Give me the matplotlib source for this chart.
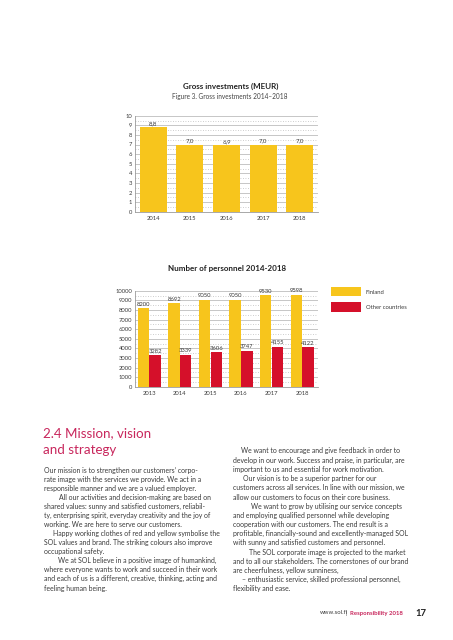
import numpy as np
import matplotlib.pyplot as plt

plt.rcParams['font.family'] = ['Lato', 'DejaVu Sans']

# ---- data ----
inv_years = ['2014', '2015', '2016', '2017', '2018']
inv_values = [8.8, 7.0, 6.9, 7.0, 7.0]
inv_labels = ['8,8', '7,0', '6,9', '7,0', '7,0']

pers_years = ['2013', '2014', '2015', '2016', '2017', '2018']
pers_finland = [8200, 8692, 9050, 9050, 9530, 9598]
pers_other = [3282, 3339, 3606, 3747, 4155, 4122]
pers_series = ['Finland', 'Other countries']

left_lines = [
    "Our mission is to strengthen our customers\u2019 corpo-",
    "rate image with the services we provide. We act in a",
    "responsible manner and we are a valued employer.",
    "All our activities and decision-making are based on",
    "shared values: sunny and satisfied customers, reliabil-",
    "ty, enterprising spirit, everyday creativity and the joy of",
    "working. We are here to serve our customers.",
    "Happy working clothes of red and yellow symbolise the",
    "SOL values and brand. The striking colours also improve",
    "occupational safety.",
    "We at SOL believe in a positive image of humankind,",
    "where everyone wants to work and succeed in their work",
    "and each of us is a different, creative, thinking, acting and",
    "feeling human being.",
]
left_indent = [0, 0, 0, 15, 0, 0, 0, 9, 0, 0, 14, 0, 0, 0]

right_lines = [
    "We want to encourage and give feedback in order to",
    "develop in our work. Success and praise, in particular, are",
    "important to us and essential for work motivation.",
    "Our vision is to be a superior partner for our",
    "customers across all services. In line with our mission, we",
    "allow our customers to focus on their core business.",
    "We want to grow by utilising our service concepts",
    "and employing qualified personnel while developing",
    "cooperation with our customers. The end result is a",
    "profitable, financially-sound and excellently-managed SOL",
    "with sunny and satisfied customers and personnel.",
    "The SOL corporate image is projected to the market",
    "and to all our stakeholders. The cornerstones of our brand",
    "are cheerfulness, yellow sunniness,",
    "\u2013 enthusiastic service, skilled professional personnel,",
    "flexibility and ease.",
]
right_indent = [8, 0, 0, 10, 0, 0, 18, 0, 0, 0, 0, 16, 0, 0, 9, 0]

YELLOW = '#F7C51C'
RED = '#D5102A'
PINK = '#C8265C'
GRID = '#BDBDBD'
TXT = '#3a3a3a'

W, H = 453, 640
fig = plt.figure(figsize=(W / 100, H / 100), dpi=100)


def px(x, y):
    return x / W, 1 - y / H


def style_axes(ax, ymax, step):
    ax.set_ylim(0, ymax)
    ax.set_yticks(np.arange(0, ymax + step / 2, step))
    ax.set_yticks(np.arange(step / 2, ymax, step), minor=True)
    ax.grid(which='major', axis='y', color=GRID, lw=0.6)
    ax.grid(which='minor', axis='y', color=GRID, lw=0.6, ls=(0, (1, 2)))
    ax.set_axisbelow(True)
    for s in ['top', 'right']:
        ax.spines[s].set_visible(False)
    for s in ['left', 'bottom']:
        ax.spines[s].set_color('#9a9a9a')
        ax.spines[s].set_linewidth(0.6)
    ax.tick_params(which='both', length=0, labelsize=4.2, colors=TXT, pad=2)
    ax.tick_params(axis='x', pad=3)


# ---- chart 1: gross investments ----
ax1 = fig.add_axes([135 / W, 1 - 211.7 / H, 183 / W, 96 / H])
x1 = np.arange(len(inv_years))
ax1.bar(x1, inv_values, width=0.74, color=YELLOW)
for xi, v, lab in zip(x1, inv_values, inv_labels):
    ax1.text(xi, v + 0.15, lab, ha='center', va='bottom', fontsize=4.4, color=TXT)
ax1.set_xlim(-0.5, 4.5)
ax1.set_xticks(x1, inv_years)
style_axes(ax1, 10, 1)

fig.text(*px(231, 86), 'Gross investments (MEUR)', ha='center', va='center',
         fontsize=5.8, fontweight='bold', color='#222222')
fig.text(*px(230, 96), 'Figure 3. Gross investments 2014\u20132018', ha='center',
         va='center', fontsize=4.7, color='#444444')

# ---- chart 2: number of personnel ----
ax2 = fig.add_axes([135 / W, 1 - 386.7 / H, 183 / W, 96 / H])
x2 = np.arange(len(pers_years))
bw = 0.375
b1 = ax2.bar(x2 - 0.19, pers_finland, width=bw, color=YELLOW, label=pers_series[0])
b2 = ax2.bar(x2 + 0.19, pers_other, width=bw, color=RED, label=pers_series[1])
for xi, v in zip(x2, pers_finland):
    ax2.text(xi - 0.19, v + 150, str(v), ha='center', va='bottom', fontsize=4.2, color=TXT)
for xi, v in zip(x2, pers_other):
    ax2.text(xi + 0.19, v + 150, str(v), ha='center', va='bottom', fontsize=4.2, color=TXT)
ax2.set_xlim(-0.47, 5.52)
ax2.set_xticks(x2, pers_years)
style_axes(ax2, 10000, 1000)

leg = ax2.legend(handles=[b1, b2], loc='upper left',
                 bbox_to_anchor=(331 / W, 1 - 287 / H), bbox_transform=fig.transFigure,
                 frameon=False, fontsize=4.2, handlelength=5.2, handleheight=2.1,
                 handletextpad=0.8, labelspacing=1.0, borderaxespad=0, borderpad=0)
for t in leg.get_texts():
    t.set_color(TXT)

fig.text(*px(227, 268), 'Number of personnel 2014-2018', ha='center', va='center',
         fontsize=5.8, fontweight='bold', color='#222222')

# ---- text section ----
fig.text(*px(43, 437), '2.4 Mission, vision', ha='left', va='baseline',
         fontsize=9.6, color=PINK)
fig.text(*px(43, 454), 'and strategy', ha='left', va='baseline',
         fontsize=9.6, color=PINK)

for i, (line, ind) in enumerate(zip(left_lines, left_indent)):
    fig.text(*px(44 + ind, 470 + i * 9.08), line, ha='left', va='center',
             fontsize=4.95, color=TXT)
for i, (line, ind) in enumerate(zip(right_lines, right_indent)):
    fig.text(*px(233 + ind, 451 + i * 9.2), line, ha='left', va='center',
             fontsize=4.95, color=TXT)

# footer
fig.text(*px(320, 613), 'www.sol.fi', ha='left', va='center', fontsize=4.3, color=TXT)
fig.text(*px(345, 613), '|', ha='left', va='center', fontsize=4.3, color=TXT)
fig.text(*px(350, 613), 'Responsibility 2018', ha='left', va='center', fontsize=4.3,
         fontweight='bold', color=PINK)
fig.text(*px(415, 613), '17', ha='left', va='center', fontsize=6.8,
         fontweight='bold', color='#222222')

fig.savefig('out.png', dpi=100)
